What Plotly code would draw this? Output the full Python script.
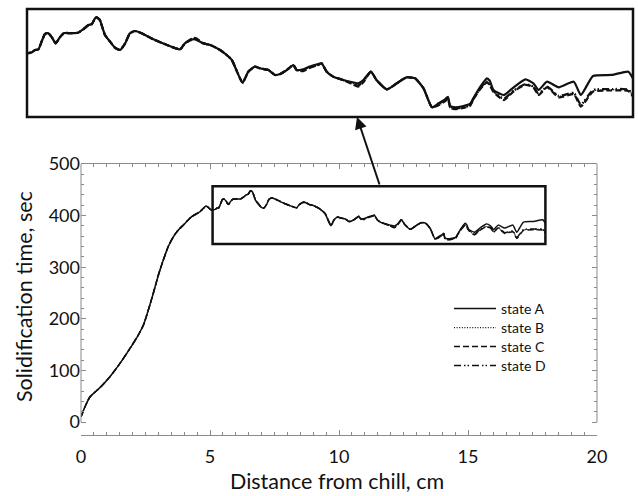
import plotly.graph_objects as go

# Distance from chill (cm), shared by all four states
distance_rise = [0.0, 0.155, 0.35, 0.74, 1.12, 1.51, 1.9, 2.22, 2.42, 2.61, 2.8, 3.0, 3.19,
                 3.38, 3.58, 3.77, 3.97, 4.29, 4.61, 4.85]
distance_plateau = [5.05, 5.2, 5.27, 5.34, 5.41, 5.48, 5.55, 5.63, 5.71, 5.8, 5.89, 6.02, 6.19,
                    6.3, 6.41, 6.48, 6.55, 6.58, 6.65, 6.76, 6.87, 6.97, 7.08, 7.19, 7.29, 7.4,
                    7.54, 7.79, 8.08, 8.36, 8.46]
distance_tail = [8.64, 8.71, 8.85, 9.0, 9.21, 9.35, 9.46, 9.69, 9.81, 9.95, 10.06,
                 10.24, 10.38, 10.49, 10.63, 10.77, 10.84, 10.98, 11.12, 11.3, 11.37, 11.48, 11.62,
                 11.83, 11.98, 12.15, 12.26, 12.42, 12.54, 12.76, 12.97, 13.18, 13.36, 13.54, 13.72,
                 13.86, 14.0, 14.06, 14.11, 14.21, 14.39, 14.53, 14.6, 14.75, 14.89, 14.95, 15.03,
                 15.25, 15.46, 15.71, 15.88, 15.99, 16.17, 16.42, 16.74, 16.89, 17.15, 17.55, 17.9, 18.0]
distance = distance_rise + distance_plateau + distance_tail

# Solidification time (sec); the four states coincide until ~8.5 cm
time_rise = [10.3, 29.7, 49, 67, 87.8, 113.7, 142.8, 168.6, 188, 217, 249, 285, 314,
             340, 359, 372, 382, 398, 407.5, 418.6]
time_plateau = [411, 412, 414.5, 415, 423, 431, 432, 427.6, 421.4, 427.6, 432, 432, 432.4,
                436, 440.4, 441.4, 447.3, 448.4, 445.6, 430, 423, 417, 414.5, 421.4, 431.8, 434.2,
                431.8, 425.6, 419.7, 415.2, 421.4]
head_common = time_rise + time_plateau

state_a = head_common + [
    425.6, 424.9, 421.4, 419.7, 414.5, 409.3, 404.1, 380.6, 392, 397.2, 395.5,
    393.7, 388.6, 389.6, 393.7, 398.9, 393.7, 394.5, 397.2, 400, 400.7, 392, 386.8,
    383.4, 381.6, 379.9, 383.4, 392, 383.4, 373.7, 379.9, 386.1, 385.1, 374.8, 355.1,
    359.2, 363.4, 366, 356.4, 355.1, 356.4, 358.5, 364.3, 376.4, 385.1, 382.6, 373,
    367.8, 375.8, 384, 379.9, 373, 381.6, 375.8, 381.6, 367.8, 387.5, 388.6, 392, 385]

state_b = head_common + [
    426.0, 425.3, 421.4, 419.7, 414.5, 409.3, 404.1, 380.6, 392, 397.2, 395.5,
    393.7, 388.6, 389.6, 393.7, 398.9, 393.7, 393.5, 396.6, 399.5, 400.7, 392, 386.8,
    383.4, 380.8, 378.2, 382.2, 392, 383.4, 373.7, 379.9, 386.1, 385.1, 374.8, 355.1,
    358.2, 362.4, 365, 355.4, 354.1, 355.4, 357.5, 363.8, 374.5, 381.5, 378.5, 371.5,
    363.2, 372, 378.8, 376.2, 368.3, 376.3, 366.5, 369.5, 357, 372, 373.3, 372.8, 367]

state_c = head_common + [
    427.0, 426.5, 421.4, 419.7, 414.5, 409.3, 404.1, 380.6, 392, 397.2, 395.5,
    393.7, 388.6, 389.6, 393.7, 398.9, 393.7, 392.5, 396.0, 399.0, 400.7, 392, 386.8,
    383.4, 380.0, 376.5, 381.0, 392, 383.4, 373.7, 379.9, 386.1, 385.1, 374.8, 355.1,
    357.2, 361.4, 364, 354.4, 353.1, 354.4, 356.5, 363.2, 374, 381, 378, 371,
    362.6, 371.6, 378.3, 375.8, 367.8, 375.8, 365.4, 368.7, 355.8, 371.3, 372.5, 372, 366]

state_d = head_common + [
    426.6, 426.0, 421.4, 419.7, 414.5, 409.3, 404.1, 380.6, 392, 397.2, 395.5,
    393.7, 388.6, 389.6, 393.7, 398.9, 393.7, 393.0, 396.3, 399.2, 400.7, 392, 386.8,
    383.4, 380.4, 377.5, 381.6, 392, 383.4, 373.7, 379.9, 386.1, 385.1, 374.8, 355.1,
    357.7, 361.9, 364.5, 354.9, 353.6, 354.9, 357, 363.5, 374.8, 381.8, 378.5, 372,
    364, 372.5, 379, 376.5, 369, 376.5, 367, 370, 358, 373, 374, 373.5, 368]

state_names = ["state A", "state B", "state C", "state D"]
state_values = [state_a, state_b, state_c, state_d]
state_dashes = ["solid", "1px,1.6px", "6px,3px", "7px,3px,1.5px,2px,1.5px,3px"]

x_ticks = [0, 5, 10, 15, 20]
y_ticks = [0, 100, 200, 300, 400, 500]
y_minor = [v for v in range(20, 500, 20) if v % 100]

# zoomed window shown in the inset
zoom_x = [5.1, 18.0]
zoom_y = [345, 457]

W, H = 638, 496
FONT = "Lato, 'Open Sans', sans-serif"
INK = "#111111"
AXIS = "#8a8a8a"

fig = go.Figure()

legend_ids = ["legend", "legend2", "legend3", "legend4"]
legend_rows = [309, 328, 347, 366]   # pixel centre of each legend row

for name, vals, dash, lg in zip(state_names, state_values, state_dashes, legend_ids):
    dotted = dash.startswith("1px")
    fig.add_trace(go.Scatter(
        x=distance, y=vals, name=name, mode="lines", legend=lg,
        line=dict(color=INK, width=1.1 if dotted else 1.5, dash=dash,
                  shape="spline", smoothing=0.5),
        xaxis="x", yaxis="y"))

for name, vals, dash in zip(state_names, state_values, state_dashes):
    dotted = dash.startswith("1px")
    fig.add_trace(go.Scatter(
        x=distance, y=vals, name=name, mode="lines", showlegend=False,
        line=dict(color=INK, width=1.4 if dotted else 2.2, dash=dash,
                  shape="spline", smoothing=0.5),
        xaxis="x2", yaxis="y2"))

main_x = [81 / W, 597 / W]
main_y = [1 - 435 / H, 1 - 164 / H]
inset_x = [27 / W, 633 / W]
inset_y = [1 - 117 / H, 1 - 9 / H]

legend_style = dict(xanchor="left", yanchor="middle", bgcolor="rgba(0,0,0,0)",
                    borderwidth=0, itemwidth=42,
                    font=dict(size=14, family=FONT, color=INK))
legends = {lg: dict(x=449 / W, y=1 - row / H, **legend_style)
           for lg, row in zip(legend_ids, legend_rows)}

fig.update_layout(
    width=W, height=H,
    margin=dict(l=0, r=0, t=0, b=0),
    paper_bgcolor="white", plot_bgcolor="white",
    font=dict(family=FONT, color=INK),
    showlegend=True,
    **legends,
    xaxis=dict(domain=main_x, range=[0, 20], tickvals=x_ticks,
               showline=True, linecolor=AXIS, linewidth=1, mirror="ticks",
               ticks="inside", ticklen=5, tickcolor=AXIS, tickwidth=1,
               minor=dict(dtick=0.5, tick0=0, ticks="inside", ticklen=3, tickcolor=AXIS),
               showgrid=False, zeroline=False, ticklabelstandoff=5,
               tickfont=dict(size=18, family=FONT, color=INK), automargin=False),
    yaxis=dict(domain=main_y, range=[-25, 500], tickvals=y_ticks,
               showline=False, mirror="ticks",
               ticks="inside", ticklen=5, tickcolor=AXIS, tickwidth=1,
               minor=dict(tickvals=y_minor, ticks="inside", ticklen=3, tickcolor=AXIS),
               showgrid=False, zeroline=False,
               tickfont=dict(size=18, family=FONT, color=INK), automargin=False),
    xaxis2=dict(domain=inset_x, range=zoom_x, visible=False, anchor="y2"),
    yaxis2=dict(domain=inset_y, range=zoom_y, visible=False, anchor="x2"),
)

# vertical axis lines only span 0..500
for side in (0, 1):
    fig.add_shape(type="line", xref="x domain", yref="y", x0=side, x1=side, y0=0, y1=500,
                  line=dict(color=AXIS, width=1))

# box marking the zoomed window
fig.add_shape(type="rect", xref="x", yref="y", x0=zoom_x[0], x1=zoom_x[1],
              y0=zoom_y[0], y1=zoom_y[1], line=dict(color=INK, width=2.5))

# inset frame
fig.add_shape(type="rect", xref="paper", yref="paper", x0=inset_x[0], x1=inset_x[1],
              y0=inset_y[0], y1=inset_y[1], line=dict(color=INK, width=2.5))

# arrow from the window to the inset
fig.add_annotation(xref="paper", yref="paper", x=357 / W, y=1 - 117 / H,
                   ax=23, ay=69, axref="pixel", ayref="pixel", text="",
                   showarrow=True, arrowhead=2, arrowsize=1.2, arrowwidth=2,
                   arrowcolor=INK)

# axis titles
fig.add_annotation(xref="paper", yref="paper", x=337 / W, y=1 - 481 / H,
                   xanchor="center", yanchor="middle",
                   text="Distance from chill, cm", showarrow=False,
                   font=dict(size=21.5, family=FONT, color=INK))
fig.add_annotation(xref="paper", yref="paper", x=24 / W, y=1 - 297 / H,
                   xanchor="center", yanchor="middle",
                   text="Solidification time, sec", showarrow=False, textangle=-90,
                   font=dict(size=21.5, family=FONT, color=INK))

fig.write_html("out.html")
